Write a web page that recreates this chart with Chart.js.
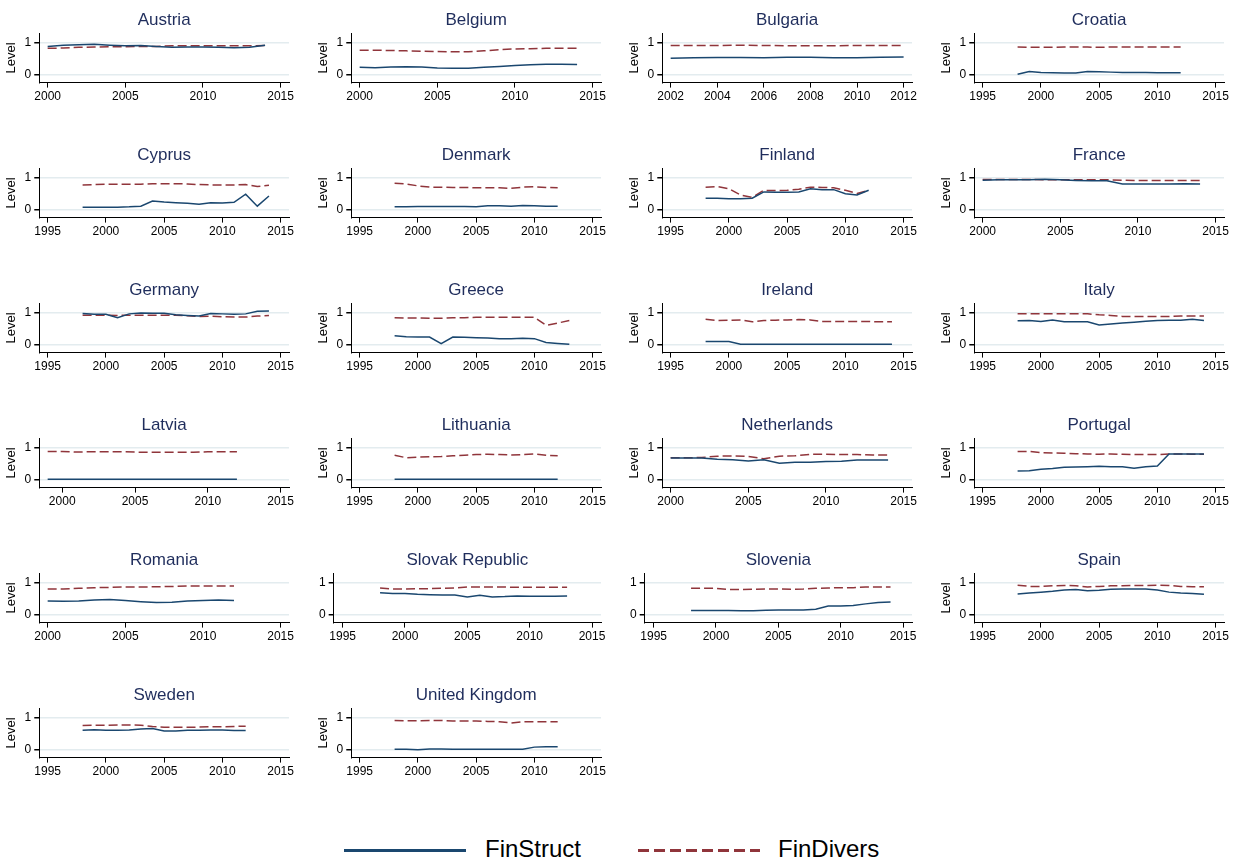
<!DOCTYPE html>
<html>
<head>
<meta charset="utf-8">
<script src="https://cdn.jsdelivr.net/npm/chart.js@4.4.0/dist/chart.umd.min.js"></script>
<style>
  html, body { margin: 0; padding: 0; background: #fff; }
  #wrap { position: relative; width: 1246px; height: 864px; overflow: hidden; font-family: 'Liberation Sans', Arial, sans-serif; }
  #wrap canvas { position: absolute; }
  #legend { position: absolute; left: 0; top: 832px; width: 1246px; height: 36px; }
  .key { position: absolute; top: 17px; height: 3px; width: 122px; }
  .key.solid { left: 344px; background: #1a476f; }
  .key.dash { left: 638px; background: repeating-linear-gradient(90deg, #90353b 0 11px, transparent 11px 16px); }
  .lbl { position: absolute; top: 3px; font-size: 24px; color: #000; }
</style>
</head>
<body>
<div id="wrap">
  <div id="legend">
    <span class="key solid"></span><span class="lbl" style="left:485px">FinStruct</span>
    <span class="key dash"></span><span class="lbl" style="left:778px">FinDivers</span>
  </div>
</div>
<script>
/* ── Data ──────────────────────────────────────────────── */
const countries = [
  'Austria', 'Belgium', 'Bulgaria', 'Croatia',
  'Cyprus', 'Denmark', 'Finland', 'France',
  'Germany', 'Greece', 'Ireland', 'Italy',
  'Latvia', 'Lithuania', 'Netherlands', 'Portugal',
  'Romania', 'Slovak Republic', 'Slovenia', 'Spain',
  'Sweden', 'United Kingdom',
];

// first year of each country's series
const firstYear = [
  2000, 2000, 2002, 1998,
  1998, 1998, 1998, 2000,
  1998, 1998, 1998, 1998,
  1999, 1998, 2000, 1998,
  2000, 1998, 1998, 1998,
  1998, 1998,
];

const ticks95 = [1995, 2000, 2005, 2010, 2015];
const ticks00 = [2000, 2005, 2010, 2015];
const ticks02 = [2002, 2004, 2006, 2008, 2010, 2012];

const xTicks = [
  ticks00, ticks00, ticks02, ticks95,
  ticks95, ticks95, ticks95, ticks00,
  ticks95, ticks95, ticks95, ticks95,
  ticks00, ticks95, ticks00, ticks95,
  ticks00, ticks95, ticks95, ticks95,
  ticks95, ticks95,
];

const yTicks = [0, 1];

const finStruct = [
  [0.88, 0.92, 0.93, 0.95, 0.92, 0.90, 0.91, 0.88, 0.85, 0.86, 0.86, 0.85, 0.84, 0.85, 0.92],
  [0.22, 0.21, 0.23, 0.24, 0.23, 0.20, 0.19, 0.19, 0.22, 0.25, 0.28, 0.30, 0.32, 0.32, 0.31],
  [0.51, 0.52, 0.53, 0.53, 0.52, 0.54, 0.54, 0.52, 0.52, 0.54, 0.55],
  [0.00, 0.09, 0.06, 0.05, 0.04, 0.04, 0.09, 0.08, 0.07, 0.06, 0.06, 0.06, 0.05, 0.05, 0.05],
  [0.07, 0.07, 0.07, 0.07, 0.08, 0.10, 0.26, 0.23, 0.21, 0.19, 0.16, 0.21, 0.20, 0.22, 0.48, 0.10, 0.42],
  [0.08, 0.08, 0.09, 0.09, 0.09, 0.09, 0.09, 0.08, 0.11, 0.11, 0.10, 0.12, 0.11, 0.10, 0.10],
  [0.35, 0.35, 0.33, 0.33, 0.35, 0.55, 0.54, 0.54, 0.55, 0.65, 0.62, 0.62, 0.49, 0.45, 0.60],
  [0.92, 0.93, 0.93, 0.93, 0.95, 0.93, 0.91, 0.90, 0.90, 0.80, 0.80, 0.80, 0.80, 0.81, 0.80],
  [0.97, 0.95, 0.95, 0.84, 0.96, 0.99, 0.98, 0.98, 0.93, 0.91, 0.89, 0.97, 0.96, 0.95, 0.96, 1.04, 1.05],
  [0.27, 0.24, 0.23, 0.23, 0.02, 0.23, 0.22, 0.21, 0.20, 0.18, 0.18, 0.19, 0.18, 0.06, 0.03, 0.00],
  [0.09, 0.09, 0.09, 0.00, 0.00, 0.00, 0.00, 0.00, 0.00, 0.00, 0.00, 0.00, 0.00, 0.00, 0.00, 0.00, 0.00],
  [0.74, 0.75, 0.72, 0.77, 0.71, 0.71, 0.71, 0.61, 0.64, 0.67, 0.70, 0.73, 0.75, 0.76, 0.76, 0.79, 0.75],
  [0.00, 0.00, 0.00, 0.00, 0.00, 0.00, 0.00, 0.00, 0.00, 0.00, 0.00, 0.00, 0.00, 0.00],
  [0.00, 0.00, 0.00, 0.00, 0.00, 0.00, 0.00, 0.00, 0.00, 0.00, 0.00, 0.00, 0.00, 0.00, 0.00],
  [0.67, 0.67, 0.67, 0.63, 0.62, 0.58, 0.62, 0.51, 0.54, 0.54, 0.56, 0.57, 0.61, 0.61, 0.61],
  [0.26, 0.27, 0.32, 0.34, 0.38, 0.39, 0.40, 0.41, 0.40, 0.40, 0.35, 0.40, 0.42, 0.80, 0.80, 0.80, 0.80],
  [0.42, 0.41, 0.42, 0.45, 0.47, 0.44, 0.40, 0.37, 0.38, 0.42, 0.44, 0.45, 0.44],
  [0.68, 0.66, 0.66, 0.63, 0.62, 0.61, 0.61, 0.55, 0.60, 0.55, 0.56, 0.58, 0.57, 0.57, 0.57, 0.58],
  [0.12, 0.12, 0.12, 0.12, 0.11, 0.11, 0.13, 0.14, 0.14, 0.14, 0.16, 0.26, 0.26, 0.28, 0.33, 0.37, 0.39],
  [0.64, 0.67, 0.70, 0.73, 0.77, 0.78, 0.74, 0.76, 0.79, 0.80, 0.80, 0.80, 0.77, 0.70, 0.67, 0.66, 0.63],
  [0.60, 0.62, 0.60, 0.60, 0.61, 0.64, 0.66, 0.58, 0.58, 0.60, 0.60, 0.61, 0.61, 0.59, 0.59],
  [0.00, 0.00, -0.01, 0.01, 0.01, 0.00, 0.00, 0.00, 0.00, 0.00, 0.00, 0.00, 0.07, 0.08, 0.08],
];

const finDivers = [
  [0.82, 0.83, 0.85, 0.86, 0.87, 0.87, 0.88, 0.88, 0.90, 0.90, 0.90, 0.90, 0.90, 0.90, 0.91],
  [0.76, 0.76, 0.75, 0.74, 0.73, 0.72, 0.71, 0.71, 0.74, 0.78, 0.80, 0.81, 0.82, 0.82, 0.82],
  [0.91, 0.91, 0.91, 0.92, 0.91, 0.90, 0.90, 0.90, 0.91, 0.91, 0.91],
  [0.86, 0.85, 0.85, 0.85, 0.86, 0.86, 0.86, 0.85, 0.86, 0.86, 0.86, 0.86, 0.86, 0.86, 0.86],
  [0.77, 0.78, 0.79, 0.79, 0.79, 0.79, 0.81, 0.81, 0.81, 0.80, 0.78, 0.77, 0.77, 0.77, 0.78, 0.72, 0.76],
  [0.82, 0.80, 0.74, 0.70, 0.70, 0.69, 0.69, 0.68, 0.68, 0.68, 0.66, 0.70, 0.71, 0.69, 0.68],
  [0.70, 0.72, 0.65, 0.45, 0.38, 0.60, 0.59, 0.60, 0.63, 0.70, 0.69, 0.68, 0.60, 0.50, 0.60],
  [0.94, 0.94, 0.94, 0.94, 0.93, 0.93, 0.93, 0.93, 0.93, 0.92, 0.91, 0.91, 0.91, 0.91, 0.91],
  [0.92, 0.92, 0.92, 0.91, 0.92, 0.92, 0.92, 0.92, 0.92, 0.90, 0.88, 0.89, 0.87, 0.86, 0.86, 0.89, 0.91],
  [0.84, 0.83, 0.83, 0.82, 0.82, 0.84, 0.84, 0.85, 0.85, 0.85, 0.85, 0.85, 0.85, 0.60, 0.67, 0.75],
  [0.79, 0.75, 0.76, 0.77, 0.71, 0.75, 0.76, 0.77, 0.78, 0.77, 0.72, 0.72, 0.72, 0.72, 0.72, 0.71, 0.71],
  [0.96, 0.96, 0.96, 0.96, 0.96, 0.96, 0.96, 0.93, 0.91, 0.88, 0.88, 0.88, 0.88, 0.88, 0.89, 0.89, 0.89],
  [0.88, 0.88, 0.86, 0.87, 0.87, 0.87, 0.86, 0.85, 0.85, 0.85, 0.85, 0.87, 0.87, 0.87],
  [0.76, 0.68, 0.70, 0.71, 0.72, 0.74, 0.76, 0.78, 0.79, 0.78, 0.77, 0.78, 0.80, 0.76, 0.74],
  [0.68, 0.68, 0.69, 0.73, 0.74, 0.72, 0.65, 0.73, 0.74, 0.79, 0.79, 0.78, 0.78, 0.77, 0.77],
  [0.88, 0.88, 0.84, 0.83, 0.82, 0.81, 0.80, 0.79, 0.80, 0.79, 0.78, 0.78, 0.78, 0.80, 0.80, 0.79, 0.79],
  [0.80, 0.80, 0.82, 0.84, 0.85, 0.86, 0.86, 0.87, 0.88, 0.89, 0.89, 0.89, 0.89],
  [0.83, 0.80, 0.80, 0.81, 0.81, 0.82, 0.83, 0.86, 0.86, 0.86, 0.86, 0.85, 0.85, 0.85, 0.85, 0.85],
  [0.82, 0.82, 0.82, 0.78, 0.78, 0.79, 0.80, 0.80, 0.79, 0.80, 0.82, 0.83, 0.84, 0.84, 0.86, 0.86, 0.86],
  [0.92, 0.88, 0.88, 0.90, 0.91, 0.90, 0.86, 0.88, 0.90, 0.90, 0.91, 0.91, 0.92, 0.91, 0.88, 0.87, 0.87],
  [0.75, 0.76, 0.76, 0.77, 0.77, 0.76, 0.72, 0.70, 0.70, 0.70, 0.70, 0.71, 0.71, 0.72, 0.73],
  [0.91, 0.90, 0.90, 0.91, 0.91, 0.89, 0.89, 0.89, 0.88, 0.87, 0.83, 0.87, 0.87, 0.87, 0.87],
];

// panels drawn without the "Level" axis title in the original
const noYTitle = ['Slovak Republic', 'Slovenia'];

/* ── Shared styles ─────────────────────────────────────── */
const NAVY   = '#1a476f';
const MAROON = '#90353b';
const TITLE  = '#1f2d5c';
const GRID   = '#e3ecef';

Chart.defaults.font.family = "'Liberation Sans', Arial, sans-serif";
Chart.defaults.color = '#000';

const COL_W = 311.5;
const ROW_H = 135;
const wrap  = document.getElementById('wrap');

const toPoints = (vals, y0) => vals.map((v, i) => ({ x: y0 + i, y: v }));

countries.forEach(function (name, i) {
    const canvas = document.createElement('canvas');
    canvas.width  = 311;
    canvas.height = 103;
    canvas.style.left = (Math.round((i % 4) * COL_W)) + 'px';
    canvas.style.top  = (Math.floor(i / 4) * ROW_H + 3) + 'px';
    wrap.appendChild(canvas);

    const tk   = xTicks[i];
    const lo   = Math.min(tk[0], firstYear[i]);
    const hi   = tk[tk.length - 1];
    const pad  = (hi - lo) * 0.036;

    new Chart(canvas, {
        type : 'line',
        data : {
            datasets : [
                {
                    label       : 'FinStruct',
                    data        : toPoints(finStruct[i], firstYear[i]),
                    borderColor : NAVY,
                    borderWidth : 1.5,
                    pointRadius : 0,
                    tension     : 0,
                },
                {
                    label       : 'FinDivers',
                    data        : toPoints(finDivers[i], firstYear[i]),
                    borderColor : MAROON,
                    borderWidth : 1.5,
                    borderDash  : [9, 4],
                    pointRadius : 0,
                    tension     : 0,
                },
            ],
        },
        options : {
            responsive : false,
            animation  : false,
            layout     : { padding: { left: 4, right: 22, top: 0, bottom: 0 } },
            plugins    : {
                legend  : { display: false },
                tooltip : { enabled: false },
                title   : {
                    display  : true,
                    text     : name,
                    color    : TITLE,
                    fullSize : false,
                    font     : { size: 17, weight: 'normal' },
                    padding  : { top: 7, bottom: 3 },
                },
            },
            scales : {
                x : {
                    type   : 'linear',
                    min    : lo - pad,
                    max    : hi + pad,
                    afterBuildTicks : axis => { axis.ticks = tk.map(v => ({ value: v })); },
                    grid   : { drawOnChartArea: false, tickLength: 5, tickColor: '#000' },
                    border : { display: true, color: '#000', width: 1 },
                    ticks  : {
                        font        : { size: 12 },
                        padding     : 2,
                        maxRotation : 0,
                        autoSkip    : false,
                        callback    : v => String(v),
                    },
                },
                y : {
                    min    : -0.26,
                    max    : 1.29,
                    afterBuildTicks : axis => { axis.ticks = yTicks.map(v => ({ value: v })); },
                    grid   : { color: GRID, lineWidth: 1.5, tickLength: 5, tickColor: '#000' },
                    border : { display: true, color: '#000', width: 1 },
                    ticks  : { font: { size: 12 }, padding: 3 },
                    title  : {
                        display : !noYTitle.includes(name),
                        text    : 'Level',
                        font    : { size: 13 },
                        padding : { top: 0, bottom: 2 },
                    },
                },
            },
        },
    });
});
</script>
</body>
</html>
